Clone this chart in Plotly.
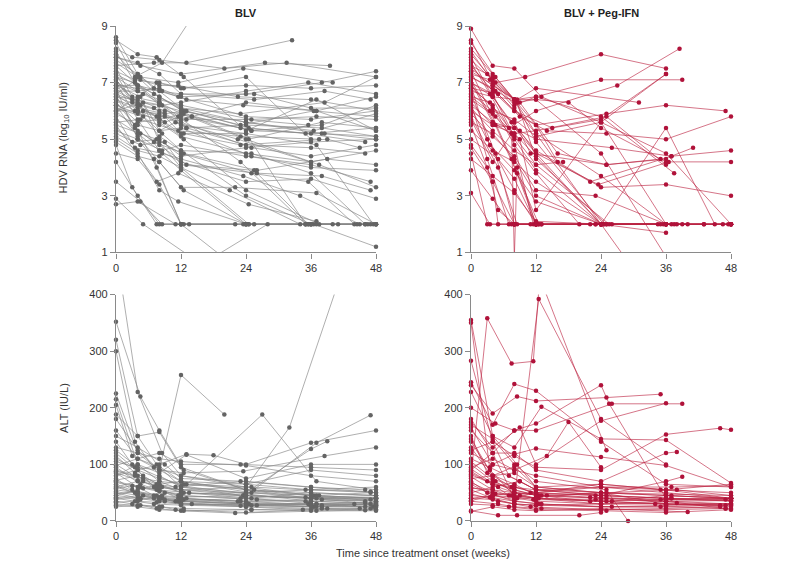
import plotly.graph_objects as go

# ---------------- data: one list of (week, value) per patient ----------------
blv_hdv = [
    [(0,8.5),(4,8.0),(7.5,7.9),(12.5,7.2),(24,5.3),(37,6.4),(48,5.3)],
    [(0,8.4),(3.5,7.2),(8.5,7.7),(14,9.3)],
    [(0,7.6),(7,7.7),(13,7.7),(32.5,8.5)],
    [(0,7.9),(4.5,7.6),(12,7.3),(27.5,7.7),(39.5,7.6)],
    [(0,8.2),(3,7.9),(8,7.8),(20,7.5),(31.5,7.7),(48,7.2)],
    [(0,6.6),(4.5,7.2),(11.5,7.0),(23.5,7.5),(40,7.0)],
    [(0,6.9),(4,6.8),(8.5,6.7),(12,6.6),(25.5,6.4),(38.5,6.7),(47,6.4)],
    [(0,7.2),(3.5,7.0),(7,6.6),(12.5,6.0),(23,5.5),(36.5,6.0),(48,5.8)],
    [(0,6.4),(4,6.1),(9,5.9),(13,6.0),(24.5,5.4),(35,5.2),(46,4.9)],
    [(0,6.0),(5,6.3),(8,5.3),(11,5.6),(22.5,5.0),(37.5,4.1),(48,3.3)],
    [(0,5.5),(4.5,5.2),(7.5,5.0),(12,4.5),(25,3.8),(35.5,3.5),(44,2.0)],
    [(0,7.5),(3,6.5),(8,6.3),(11.5,5.8),(23,4.2),(35,2.0),(47,2.0)],
    [(0,6.8),(4,5.0),(7,4.3),(12,2.0),(24,2.0),(36,2.0),(46.5,2.0)],
    [(0,4.8),(3,3.3),(7.5,2.0),(12.5,2.0),(22,2.0)],
    [(0,3.5),(4.5,2.8),(8.5,2.0),(13.5,2.0)],
    [(0,2.7),(4,2.8),(11,2.0),(24.5,2.0),(37,2.0),(48,2.0)],
    [(0,6.2),(4,5.9),(8,5.7),(12.5,5.9),(25,5.3),(38,5.5),(48,6.2)],
    [(0,5.8),(3.5,4.7),(8.5,4.5),(12,4.3),(23.5,3.7),(34,3.0),(45,2.0)],
    [(0,7.0),(5,6.6),(8,6.3),(13,5.4),(24,4.8),(36,4.7),(46,4.5)],
    [(0,6.5),(4,6.4),(9,6.0),(14,5.8),(25,5.3),(38.5,5.2),(48,5.0)],
    [(0,8.0),(4.5,7.1),(8,6.9),(11.5,6.9),(22.5,6.5),(36,6.4),(48,6.0)],
    [(0,6.3),(3.5,5.5),(7.5,4.0),(12,2.0),(25.5,2.0)],
    [(0,7.3),(4,6.0),(8,5.6),(12.5,5.0),(24,3.2),(37.5,2.0)],
    [(0,4.5),(4,4.3),(7.5,3.5),(11.5,3.8),(24.5,2.7),(37,2.1)],
    [(0,5.2),(4.5,4.8),(9,4.9),(12,4.1),(26,3.8),(38,3.7),(47,3.2)],
    [(0,6.7),(3,6.4),(8.5,6.2),(12,6.3),(24,6.7),(35.5,7.0),(48,6.6)],
    [(0,7.8),(4,7.3),(7,6.8),(13,6.4),(23.5,6.2),(37,6.0),(48,5.3)],
    [(0,6.1),(5,5.8),(8,5.1),(12,4.6),(25,4.5),(36,3.8),(46,2.0)],
    [(0,5.0),(4,4.5),(8,3.2),(11.5,2.8),(24,2.0),(36.5,2.0),(48,1.2)],
    [(0,6.9),(4,6.9),(8,6.5),(14,5.8),(24.5,5.0),(38,5.6),(48,5.4)],
    [(0,7.1),(3,6.3),(7,6.1),(12,5.6),(25,4.7),(36,4.4),(48,4.8)],
    [(0,5.6),(4.5,5.7),(8,5.5),(12.5,5.2),(23,4.8),(39,5.0),(45,4.7)],
    [(0,6.6),(4,6.0),(8.5,5.2),(12,4.6),(24,3.0),(36,2.0),(48,2.0)],
    [(0,8.6),(4,7.3),(12,6.1),(24,5.6),(36.5,5.3),(48,5.9)],
    [(0,7.4),(3.5,7.1),(7.5,7.0),(12,6.8),(24,6.9),(36,6.8),(48,6.9)],
    [(0,4.2),(4,3.0),(8,2.0),(12,2.0),(23.5,2.0),(35.5,2.0)],
    [(0,2.9),(5,2.0),(13,0.95)],
    [(0,5.5),(8,3.4),(12,2.0),(19,0.95),(28,2.0)],
    [(0,6.0),(4,6.5),(8,7.0),(12.5,6.8),(24,7.2),(36,5.0)],
    [(0,6.7),(4,6.7),(8,6.8),(12,6.5),(25.5,6.6),(36,6.1),(48,6.1)],
    [(0,7.0),(4.5,6.2),(8,6.0),(12,5.5),(24,5.2),(37,4.8),(47.5,2.0)],
    [(0,5.3),(4,5.0),(8.5,4.6),(12,4.8),(24,4.4),(36,4.1),(47,3.5)],
    [(0,6.4),(3.5,6.0),(8,5.8),(13,5.7),(24,5.7),(35.5,5.5)],
    [(0,7.7),(4,7.2),(8,6.5),(12,6.1),(23,5.9),(38.5,6.3),(48,7.2)],
    [(0,6.2),(4,5.1),(8,4.2),(12.5,3.2),(24,2.0),(35,2.0),(48,2.0)],
    [(0,5.9),(4,5.5),(8,5.3),(12,5.4),(25,4.4),(36,4.0),(48,3.9)],
    [(0,7.6),(4,6.9),(8,6.2),(12,6.0),(24,5.6),(38,5.2),(48,5.1)],
    [(0,6.9),(4.5,6.5),(8,4.9),(12,4.0),(24.5,2.0),(36,2.0),(46,2.0)],
    [(0,6.5),(4,6.2),(7.5,5.8),(12,5.2),(24,5.2),(35,2.0),(44.5,2.0)],
    [(0,4.9),(4,4.4),(8,4.2),(12,3.3),(22,3.3),(37,3.1),(48,2.0)],
    [(0,7.3),(4,6.9),(8,6.7),(11.5,6.5),(24,5.8),(36,5.7),(48,6.0)],
    [(0,6.0),(4,6.0),(8,5.9),(13,5.4),(24,5.5),(38,5.4),(48,5.1)],
    [(0,8.1),(3.5,7.0),(8,6.3),(12,5.9),(24,5.0),(36,4.2),(48,4.6)],
    [(0,6.8),(4,6.2),(9,5.6),(12,5.8),(23,5.4),(36,5.2),(48,5.4)],
    [(0,5.4),(3,4.9),(8,5.0),(12,4.4),(24,4.7),(36,4.9),(48,5.0)],
    [(0,7.0),(4,5.7),(8,4.6),(12,3.9),(24,2.0),(36,2.0)],
    [(0,6.6),(4,6.3),(8,6.2),(12,5.7),(24,6.3),(37,6.0),(48,6.5)],
    [(0,7.9),(4,7.7),(8,7.3),(12,6.6),(24,6.6),(38,7.0),(48,7.4)],
    [(0,5.7),(4,5.2),(8,4.6),(12,4.2),(24,3.5),(36,3.6),(48,2.9)],
    [(0,6.3),(4,5.6),(8,5.7),(12,5.1),(24,4.5),(36,4.2)],
    [(0,7.2),(4,6.7),(8,6.4),(12,6.2),(25,5.7),(37,5.8),(48,5.7)],
    [(0,6.0),(3.5,5.4),(7,4.9),(12.5,4.5),(26,3.9),(39,4.3),(48,4.1)],
    [(0,7.1),(5,6.0),(9,5.8),(11.5,5.3),(23,5.1),(37.5,5.0)],
    [(0,5.1),(4,4.6),(8,4.4),(12,4.0),(21,3.2),(34,2.0),(41,2.0)],
    [(0,6.5),(4,5.3),(8,4.8),(13,4.1),(25.5,3.9),(35.5,2.0),(40,2.0)],
]

peg_hdv = [
    [(0,8.9),(4,7.6),(8,7.5),(13,6.5),(24,5.6),(36,2.0)],
    [(0,8.4),(4.5,7.2),(8,6.4),(12,5.2),(24,2.0),(36,2.0),(48,2.0)],
    [(0,8.1),(3,7.3),(8.5,6.3),(12,4.3),(25,2.0),(37,2.0)],
    [(0,7.7),(3.5,6.6),(7.5,5.2),(11.5,2.0),(24,2.0),(36,2.0),(47.5,2.0)],
    [(0,7.4),(3.5,6.0),(7.5,4.3),(12,2.0),(23,2.0)],
    [(0,7.1),(4.5,5.5),(8.5,3.8),(12.5,2.0),(24.5,2.0),(35.5,2.0)],
    [(0,6.9),(3,5.0),(8,3.2),(12,2.0),(24,2.0),(37.5,2.0),(48,2.0)],
    [(0,6.6),(4.5,4.5),(8,2.0),(12,2.0),(25,2.0)],
    [(0,6.3),(3,4.3),(7,2.0),(12,2.0)],
    [(0,5.8),(5,4.0),(8.5,2.0),(11,2.0)],
    [(0,5.5),(4,3.5),(5,2.0),(8,2.0)],
    [(0,4.8),(3,4.0),(5,2.5),(8,2.0),(12,2.0)],
    [(0,4.5),(3,2.0),(8,2.0),(13,2.0)],
    [(0,3.9),(4,2.9),(7.5,2.0),(12.5,2.0)],
    [(0,3.1),(3.5,2.0),(8,2.0),(12,2.0),(22,2.0)],
    [(0,7.5),(4,6.9),(8,6.4),(12,6.5),(24,7.1),(39,7.1)],
    [(0,7.8),(4.5,7.0),(10,7.2),(24,8.0),(36,7.5)],
    [(0,7.2),(4.5,6.7),(8,6.0),(15,5.4),(24,5.7),(36,7.3)],
    [(0,6.5),(3.5,6.3),(7,5.4),(12,6.0),(27,6.9),(38.5,8.2)],
    [(0,7.0),(4,6.5),(8.5,6.4),(12,6.8),(31,6.3)],
    [(0,6.8),(5,6.6),(8,6.0),(12,5.5),(25,5.9),(36,6.2),(47,6.0)],
    [(0,6.2),(4,5.6),(9,5.3),(12,4.5),(23.5,3.4),(36.5,4.2),(48,4.2)],
    [(0,6.0),(4,5.5),(8,5.4),(12,5.0),(26,4.7),(37,4.4),(48,4.6)],
    [(0,7.3),(3.5,7.1),(8,6.4),(12,5.5),(16,4.2),(24,3.3),(36,3.4),(48,3.0)],
    [(0,6.7),(4,6.5),(7.5,5.6),(12,4.6),(22,3.5),(37,4.4),(41,4.7)],
    [(0,8.0),(4,7.1),(8,6.2),(12,6.5),(24,5.8),(37.5,3.8)],
    [(0,7.6),(4,6.7),(9,5.8),(14,5.3),(25,5.2),(36,5.0),(48,5.8)],
    [(0,6.4),(4.5,5.8),(8,5.0),(12,3.9),(24,2.0),(28.5,0.8)],
    [(0,5.7),(4,4.2),(7.5,5.2),(8,0.8),(8.5,4.0),(12,2.0)],
    [(0,6.1),(3.5,4.8),(8,3.9),(12,2.8),(24,2.0),(36,1.7)],
    [(0,5.3),(4,4.6),(8,4.2),(12,3.5),(24,2.0),(36,5.4),(45,2.0)],
    [(0,8.2),(4,7.3),(8,6.4),(12,4.9),(24.5,2.0),(36,2.0),(46.5,2.0)],
    [(0,7.0),(4,6.6),(8,5.1),(12,4.1),(25.5,2.0),(34.5,2.0)],
    [(0,6.6),(4,6.0),(8,5.7),(12,5.1),(24,5.6),(36,4.5),(48,2.0)],
    [(0,7.4),(4,6.9),(9,6.3),(16,4.5),(25,4.1),(36,4.3)],
    [(0,5.0),(5,4.3),(8,3.6),(12,2.0),(23,2.0),(38,2.0)],
    [(0,4.3),(4,3.7),(8,3.1),(12,2.1),(24,2.0),(36,2.0)],
    [(0,8.5),(4,7.0),(8,6.1),(12,5.2),(24,3.7),(36,2.0),(48,2.0)],
    [(0,7.2),(4,6.8),(8,6.3),(12,6.4),(24,4.5),(36.5,0.7)],
    [(0,6.9),(4,6.1),(8,5.6),(11,4.5),(25,4.1),(35,4.3)],
    [(0,5.9),(4,5.1),(8,4.4),(12,3.2),(23,3.0),(36,2.0)],
    [(0,6.3),(4,5.5),(8,5.2),(12,5.3),(25,5.8),(36,4.1)],
    [(0,7.9),(4,6.5),(8,5.4),(12,4.5),(24,2.0),(40,2.0)],
    [(0,5.6),(4,5.2),(8,4.3),(12,3.0),(24,2.0)],
    [(0,4.7),(4,3.5),(8,2.0),(13,2.0),(26,2.0),(39,2.0),(48,2.0)],
    [(0,7.6),(4,7.2),(8,6.4),(12,6.4),(18,6.3),(24,5.4),(36,4.2)],
    [(0,6.8),(4,6.2),(8,4.8),(12,3.8),(20,2.0),(35,2.0),(43,2.0)],
    [(0,6.1),(4,5.3),(8,4.6),(12,4.1),(17,4.2)],
    [(0,7.0),(4,5.6),(9,5.0),(12,2.5),(24,5.6),(36,7.3)],
    [(0,6.5),(4,5.9),(8,5.2),(12,4.4),(24,2.0),(43,2.0),(48,2.0)],
]

blv_alt = [
    [(0,480),(4,228),(8.5,120),(12,80),(24,60),(36,45),(48,40)],
    [(0,352),(4.5,220),(8,160),(12.5,90),(24,55),(36.5,45),(48,35)],
    [(0,320),(4,150),(7.5,100),(12,70),(25,50),(37,40),(47,38)],
    [(0,300),(3.5,140),(8,80),(12,60),(23.5,45),(36,40),(48,30)],
    [(0,225),(4,120),(8,90),(12,258),(20,188)],
    [(0,215),(4,100),(8,70),(12,55),(27,188),(37,70),(48,55)],
    [(0,60),(4,70),(12,55),(24,60),(32,165),(41,420)],
    [(0,188),(4,150),(8,157),(12,95),(24,55),(36,40),(48,35)],
    [(0,160),(4,110),(8,120),(12,100),(23,100),(36,95),(48,90)],
    [(0,140),(3,100),(7,60),(11.5,40),(22.5,35),(35.5,30),(46,25)],
    [(0,120),(5,80),(8.5,60),(12.5,50),(25,40),(37,30),(48,30)],
    [(0,110),(4,90),(8,100),(13,118),(18,116),(24,100),(36,138),(48,160)],
    [(0,100),(5,70),(8,55),(12,45),(24,40),(36,50),(48,45)],
    [(0,95),(4.5,65),(9,50),(13,40),(24.5,30),(38,25),(47,30)],
    [(0,90),(3.5,80),(7.5,65),(11,60),(23,70),(36,60),(48,50)],
    [(0,85),(4,60),(7,45),(12,35),(24,30),(36,30),(48,28)],
    [(0,80),(4,90),(8,75),(12.5,65),(25.5,55),(37.5,45),(48,40)],
    [(0,75),(3,55),(8.5,40),(12,30),(24,25),(34.5,20),(45,22)],
    [(0,70),(4.5,60),(7.5,55),(13.5,50),(23.5,45),(36,42),(48,45)],
    [(0,65),(4,50),(8,40),(11.5,35),(24,30),(38,28),(47.5,25)],
    [(0,60),(5,45),(9,35),(12,30),(26,28),(36.5,25),(48,26)],
    [(0,55),(3.5,50),(7.5,45),(12,40),(24,35),(35,35),(46,32)],
    [(0,50),(4,40),(8,35),(14,30),(23,27),(37,25),(48,24)],
    [(0,45),(4.5,40),(8,38),(12,35),(24.5,30),(36,30),(44,30)],
    [(0,40),(4,35),(7,30),(12,28),(24,25),(39,22),(48,20)],
    [(0,35),(3,30),(8,25),(12.5,22),(25,20),(36,18),(48,18)],
    [(0,30),(4,28),(8.5,25),(11,20),(24,15),(36,20),(47,22)],
    [(0,25),(4.5,28),(7.5,22),(12,18),(22,14),(37,18),(48,20)],
    [(0,130),(4,120),(8,110),(12,105),(24,98),(36,80),(48,70)],
    [(0,105),(3.5,95),(8,90),(12.5,85),(23.5,88),(38.5,115),(48,130)],
    [(0,150),(4,130),(9,100),(12,75),(24,70),(36,60),(46,55)],
    [(0,88),(5,75),(8,70),(13,65),(25,60),(35,55),(48,60)],
    [(0,72),(4,80),(7.5,60),(12,55),(24,50),(37,45),(47,50)],
    [(0,58),(3,62),(8,55),(11.5,45),(26,38),(36,35),(48,38)],
    [(0,48),(4,52),(8.5,45),(12,42),(24,45),(36,40),(48,40)],
    [(0,42),(4.5,38),(8,42),(12.5,38),(23,35),(38,38),(46,35)],
    [(0,38),(4,45),(7,40),(12,36),(24,32),(36,30),(48,33)],
    [(0,115),(3.5,85),(8,65),(12,50),(24,45),(36,40),(48,42)],
    [(0,180),(4,125),(8,90),(12,70),(24,55),(36,50),(48,45)],
    [(0,205),(3,115),(7,95),(12,80),(24,65),(36,55),(48,50)],
    [(0,98),(4,110),(8,95),(12,60),(24,50),(36,127),(39,141)],
    [(0,80),(4,100),(8,85),(13,117),(24,75),(36,100),(48,100)],
    [(0,62),(4,48),(9,38),(12,32),(25,28),(37,30),(48,28)],
    [(0,68),(5,58),(8,52),(12,48),(24,50),(36,55),(47,52)],
    [(0,52),(4,45),(8,40),(11,35),(23,40),(35,42),(48,40)],
    [(0,33),(3.5,35),(7.5,33),(12,30),(24,28),(36,26),(48,30)],
    [(0,28),(4,25),(8,20),(12.5,18),(25,20),(38,22),(46,19)],
    [(0,45),(4,55),(8,65),(12,70),(24,65),(36,90),(48,80)],
    [(0,125),(4,95),(8,78),(12,62),(24,48),(36,35),(48,30)],
    [(0,85),(4,72),(8,60),(12,55),(24,45),(37,138),(47,187)],
]

peg_alt = [
    [(0,80),(3,358),(7.5,278),(11.5,282),(12.7,430),(25,125)],
    [(0,90),(4,120),(8,40),(12.5,392),(24,180),(36,100)],
    [(0,355),(4,150),(8.5,100),(12,60),(24,50),(36,45),(48,40)],
    [(0,350),(3.5,90),(8,45),(12.5,40),(24,35),(36,30),(48,30)],
    [(0,283),(4,140),(7,80),(12,55),(25,45),(37,40),(48,35)],
    [(0,245),(4,170),(8,242),(12,230),(24,140),(36,65),(48,60)],
    [(0,240),(4,190),(8.5,220),(12,212),(25,218),(35,224)],
    [(0,228),(4,150),(8,130),(13,202),(24,145),(36,143),(48,67)],
    [(0,200),(4.5,172),(8,160),(12,172),(24,240),(25.5,207),(36,40)],
    [(0,180),(4,120),(8,160),(12,160),(26,207),(39,207)],
    [(0,175),(4,130),(9,165),(12,100),(24,177),(36,208)],
    [(0,165),(4,100),(8,118),(12,128),(24,113),(36,98),(48,60)],
    [(0,150),(3,85),(8,65),(11,50),(23,45),(36,40),(47,38)],
    [(0,140),(4,80),(7.5,60),(12,55),(24,60),(35,55),(48,50)],
    [(0,130),(4.5,70),(8,50),(13,45),(25,40),(36,35),(48,30)],
    [(0,120),(4,100),(8,90),(14,115),(18,175),(24,95)],
    [(0,110),(3.5,95),(9,70),(12,55),(24,45),(37,40),(48,38)],
    [(0,100),(4,70),(8,55),(12.5,45),(22,35),(36,30),(46,28)],
    [(0,92),(5,60),(8,50),(12,40),(24,30),(38,32),(48,30)],
    [(0,85),(4,65),(7,45),(11.5,38),(25,35),(36,38),(48,40)],
    [(0,78),(4,55),(8.5,40),(12,35),(24,30),(34,30),(47,28)],
    [(0,70),(3,50),(8,35),(13,30),(26,25),(36,25),(48,22)],
    [(0,65),(4,45),(8,38),(12,42),(24,50),(37,45),(48,40)],
    [(0,60),(4.5,48),(7.5,45),(12,40),(23,38),(36,35),(48,36)],
    [(0,55),(4,40),(8,30),(11,25),(24,20),(36,22),(46,25)],
    [(0,50),(4,60),(9,70),(12,55),(25,50),(38,55),(48,45)],
    [(0,45),(3.5,42),(8,35),(12.5,30),(24,25),(36,28),(48,30)],
    [(0,40),(4,45),(8,50),(12,48),(22,42),(35,38),(48,40)],
    [(0,35),(5,30),(8,25),(13,22),(24,20),(36,20),(47,22)],
    [(0,30),(4,28),(7,25),(12,20),(25,18),(36,15),(48,20)],
    [(0,18),(5,10),(8.5,10),(20,10),(24,15)],
    [(0,17),(4,25),(8,20),(12,18),(24,22),(36,18),(40,16)],
    [(0,75),(4,80),(8,85),(12,60),(24,65),(36,55),(48,65)],
    [(0,95),(4,110),(8,90),(12,80),(24,60),(36,50),(48,40)],
    [(0,170),(4,145),(8,100),(12,70),(25,55),(29,0)],
    [(0,125),(4,140),(8,115),(12,95),(24,90),(36,153),(46,164),(48,161)],
    [(0,105),(4,75),(8,60),(12,50),(24,45),(36,70),(39,78)],
    [(0,88),(3,70),(8,55),(12,45),(24,40),(36,38),(48,36)],
    [(0,82),(4,65),(8,60),(12,50),(24,60),(37,60),(48,62)],
    [(0,68),(4,50),(9,45),(12,40),(26,35),(36,45),(48,40)],
    [(0,58),(4,55),(8,50),(14,45),(24,50),(36,48),(48,45)],
    [(0,48),(5,35),(8,30),(12,28),(24,25),(35,25),(48,28)],
    [(0,40),(4,38),(8,30),(12,28),(24,30),(36,35),(47,22)],
    [(0,160),(4,120),(8,120),(12,90),(24,70),(36,120),(38,122)],
    [(0,145),(4,80),(8,96),(12,60),(24,50),(36,30),(48,25)],
    [(0,36),(4,45),(8,42),(12,50),(24,65),(36,55),(48,40)],
]

week_ticks = [0, 12, 24, 36, 48]
hdv_ticks = [1, 3, 5, 7, 9]
alt_ticks = [0, 100, 200, 300, 400]
panel_titles = ["BLV", "BLV + Peg-IFN"]

# ---------------- figure ----------------
OFF = 8  # page body margin of the browser
W, H = 787 - 2 * OFF, 570 - 2 * OFF
L, R, T, B = 116 - OFF, 787 - 731 - OFF, 23 - OFF, 570 - 520.7 - OFF
pw, ph = W - L - R, H - T - B


def px_to_paper_x(px):
    return (px - OFF - L) / pw


def px_to_paper_y(py):
    return (H - B - (py - OFF)) / ph


xd1 = [0, px_to_paper_x(376)]
xd2 = [px_to_paper_x(471), 1]
yd_top = [px_to_paper_y(250.7), 1]
yd_bot = [0, px_to_paper_y(293)]

GREY_LINE = "rgba(135,135,135,0.95)"
GREY_MARK = "#646464"
RED_LINE = "rgba(188,35,65,0.9)"
RED_MARK = "#b0123a"


def flatten(patients):
    xs, ys = [], []
    for p in patients:
        for w, v in p:
            xs.append(w)
            ys.append(v)
        xs.append(None)
        ys.append(None)
    return xs, ys


fig = go.Figure()
panels = [
    (blv_hdv, "x", "y", GREY_LINE, GREY_MARK),
    (peg_hdv, "x2", "y2", RED_LINE, RED_MARK),
    (blv_alt, "x3", "y3", GREY_LINE, GREY_MARK),
    (peg_alt, "x4", "y4", RED_LINE, RED_MARK),
]
for data, xa, ya, lc, mc in panels:
    xs, ys = flatten(data)
    fig.add_trace(go.Scatter(
        x=xs, y=ys, xaxis=xa, yaxis=ya, mode="lines+markers",
        line=dict(color=lc, width=0.7),
        marker=dict(color=mc, size=4.5, line=dict(width=0)),
        connectgaps=False, cliponaxis=False, showlegend=False,
        hoverinfo="skip"))

tickfont = dict(family="Liberation Sans, Arial, sans-serif", size=11, color="#333333")
axcommon = dict(showline=True, linecolor="#8a8a8a", linewidth=1.3, ticks="outside",
                ticklen=5, tickwidth=1, tickcolor="#8a8a8a", showgrid=False,
                zeroline=False, tickfont=tickfont, layer="above traces")

fig.update_layout(
    width=W, height=H, margin=dict(l=L, r=R, t=T, b=B),
    paper_bgcolor="white", plot_bgcolor="white",
    font=dict(family="Liberation Sans, Arial, sans-serif", size=11, color="#333333"),
    xaxis=dict(domain=xd1, anchor="y", range=[0, 48], tickvals=week_ticks, **axcommon),
    yaxis=dict(domain=yd_top, anchor="x", range=[1, 9], tickvals=hdv_ticks, **axcommon),
    xaxis2=dict(domain=xd2, anchor="y2", range=[0, 48], tickvals=week_ticks, **axcommon),
    yaxis2=dict(domain=yd_top, anchor="x2", range=[1, 9], tickvals=hdv_ticks, **axcommon),
    xaxis3=dict(domain=xd1, anchor="y3", range=[0, 48], tickvals=week_ticks, **axcommon),
    yaxis3=dict(domain=yd_bot, anchor="x3", range=[0, 400], tickvals=alt_ticks, **axcommon),
    xaxis4=dict(domain=xd2, anchor="y4", range=[0, 48], tickvals=week_ticks, **axcommon),
    yaxis4=dict(domain=yd_bot, anchor="x4", range=[0, 400], tickvals=alt_ticks, **axcommon),
)


def label(text, px, py, angle=0, color="#333333"):
    return dict(text=text, x=px_to_paper_x(px), y=px_to_paper_y(py),
                xref="paper", yref="paper", xanchor="center", yanchor="middle",
                showarrow=False, textangle=angle, font=dict(size=11, color=color))


ann = [
    label("<b>" + panel_titles[0] + "</b>", 246, 10, color="#222222"),
    label("<b>" + panel_titles[1] + "</b>", 601, 10, color="#222222"),
    label("HDV RNA (log<sub>10</sub> IU/ml)", 64, 136, angle=-90),
    label("ALT (IU/L)", 64, 407, angle=-90),
    label("Time since treatment onset (weeks)", 423, 553),
]
fig.update_layout(annotations=ann)

fig.write_html("out.html")
